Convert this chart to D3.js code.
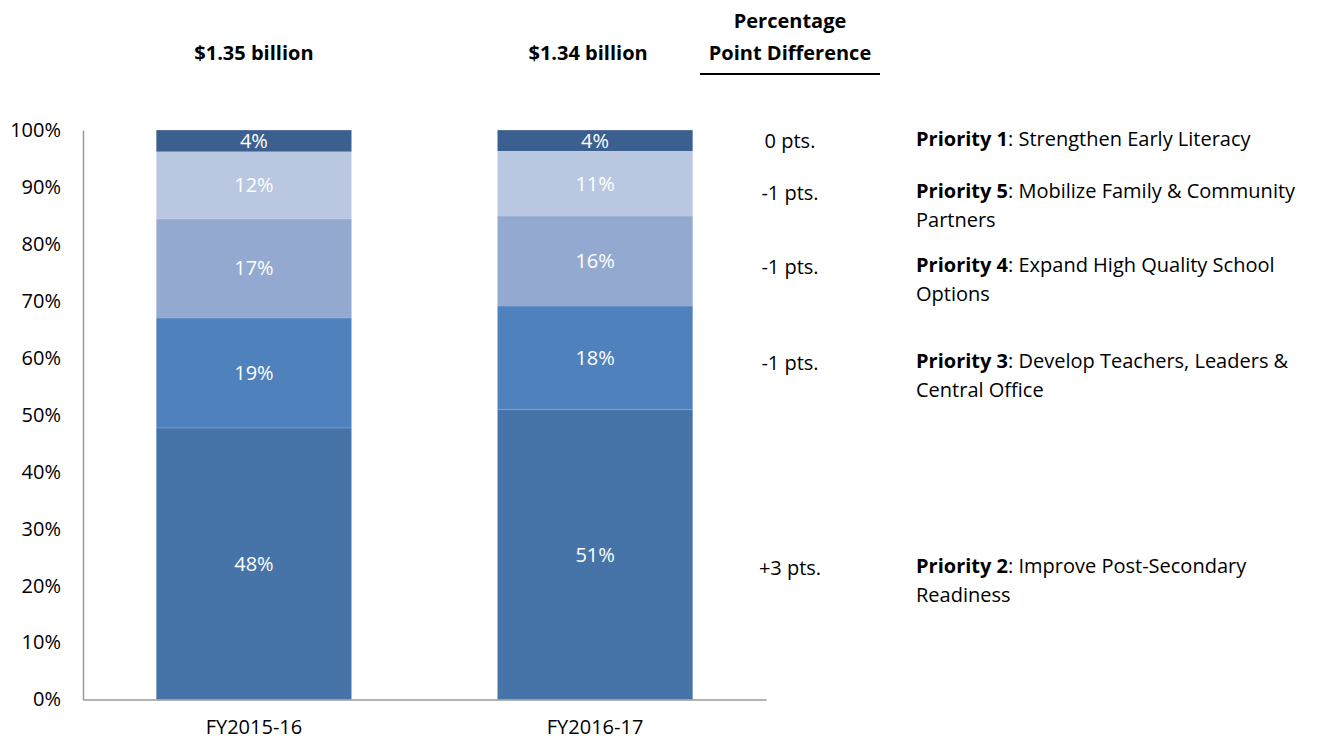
<!DOCTYPE html>
<html>
<head>
<meta charset="utf-8">
<script src="https://cdn.jsdelivr.net/npm/d3@7"></script>
<style>
  body { margin: 0; background: #fff; }
  text { font-family: "Open Sans", "Noto Sans", sans-serif; }
</style>
</head>
<body>
<div id="chart"></div>
<script>
// data
var years = ["FY2015-16", "FY2016-17"];
var totals = ["$1.35 billion", "$1.34 billion"];
// stacked bottom to top
var priorities = ["Priority 2", "Priority 3", "Priority 4", "Priority 5", "Priority 1"];
var fy1516 = [47.7, 19.3, 17.4, 11.8, 3.8];
var fy1617 = [50.9, 18.2, 15.8, 11.4, 3.7];
var ptsDiff = ["+3 pts.", "-1 pts.", "-1 pts.", "-1 pts.", "0 pts."];
var descriptions = [
  ["Improve Post-Secondary", "Readiness"],
  ["Develop Teachers, Leaders &", "Central Office"],
  ["Expand High Quality School", "Options"],
  ["Mobilize Family & Community", "Partners"],
  ["Strengthen Early Literacy"]
];
var colors = ["#4674a8", "#4f81bd", "#94a9cf", "#bac7e0", "#3b5f8e"];
var yTicks = [0, 10, 20, 30, 40, 50, 60, 70, 80, 90, 100];

var W = 1324, H = 742;
var fs = "20px";
var svg = d3.select("#chart").append("svg")
  .attr("width", W)
  .attr("height", H);

var x = d3.scaleBand()
  .domain(years)
  .range([83, 766])
  .paddingInner(0.428)
  .paddingOuter(0.215);

var y = d3.scaleLinear()
  .domain([0, 100])
  .range([699.5, 130]);

// stack the two series
var table = priorities.map(function(p, i) {
  return { key: p, values: [fy1516[i], fy1617[i]] };
});
var rows = years.map(function(yr, j) {
  var row = { year: yr };
  priorities.forEach(function(p, i) { row[p] = table[i].values[j]; });
  return row;
});
var series = d3.stack().keys(priorities)(rows);

var layer = svg.append("g").selectAll("g")
  .data(series)
  .join("g")
  .attr("fill", function(d, i) { return colors[i]; });

layer.selectAll("rect")
  .data(function(d) { return d; })
  .join("rect")
  .attr("x", function(d) { return x(d.data.year); })
  .attr("width", x.bandwidth())
  .attr("y", function(d) { return y(d[1]); })
  .attr("height", function(d) { return y(d[0]) - y(d[1]); });

// faint separators between segments
layer.selectAll("line")
  .data(function(d) { return d; })
  .join("line")
  .attr("x1", function(d) { return x(d.data.year); })
  .attr("x2", function(d) { return x(d.data.year) + x.bandwidth(); })
  .attr("y1", function(d) { return y(d[1]); })
  .attr("y2", function(d) { return y(d[1]); })
  .attr("stroke", "#ffffff")
  .attr("stroke-opacity", 0.25)
  .attr("stroke-width", 1);

// segment labels
layer.selectAll("text")
  .data(function(d) { return d; })
  .join("text")
  .attr("x", function(d) { return x(d.data.year) + x.bandwidth() / 2; })
  .attr("y", function(d) { return (y(d[0]) + y(d[1])) / 2; })
  .attr("dy", "0.35em")
  .attr("text-anchor", "middle")
  .attr("fill", "#ffffff")
  .style("font-size", fs)
  .text(function(d) { return Math.round(d[1] - d[0]) + "%"; });

// Y axis
var yAxis = svg.append("g")
  .attr("transform", "translate(83,0)")
  .call(d3.axisLeft(y).tickValues(yTicks).tickSize(0).tickPadding(22)
    .tickFormat(function(d) { return d + "%"; }));
yAxis.select(".domain").attr("stroke", "#999999").attr("stroke-width", 1.5);
yAxis.selectAll("text").style("font-size", fs).attr("fill", "#000");

// X axis
var xAxis = svg.append("g")
  .attr("transform", "translate(0,699.5)")
  .call(d3.axisBottom(x).tickSize(0).tickPadding(20));
xAxis.select(".domain").attr("stroke", "#999999").attr("stroke-width", 1.5);
xAxis.selectAll("text").style("font-size", fs).attr("fill", "#000");

// totals above bars
svg.append("g").selectAll("text")
  .data(years)
  .join("text")
  .attr("x", function(d, i) { return x(d) + x.bandwidth() / 2 - (i === 1 ? 7 : 0); })
  .attr("y", 60)
  .attr("text-anchor", "middle")
  .style("font-size", fs)
  .style("font-weight", "bold")
  .text(function(d, i) { return totals[i]; });

// difference header
var diffX = 790;
svg.append("text")
  .attr("x", diffX).attr("y", 28)
  .attr("text-anchor", "middle")
  .style("font-size", fs).style("font-weight", "bold")
  .text("Percentage");
svg.append("text")
  .attr("x", diffX).attr("y", 60)
  .attr("text-anchor", "middle")
  .style("font-size", fs).style("font-weight", "bold")
  .text("Point Difference");
svg.append("line")
  .attr("x1", 700).attr("x2", 880)
  .attr("y1", 74).attr("y2", 74)
  .attr("stroke", "#000").attr("stroke-width", 2);

// right-side annotations
var lineY = [568, 363, 267, 193, 141];

var ann = svg.append("g").selectAll("g")
  .data(priorities)
  .join("g");

ann.append("text")
  .attr("x", diffX)
  .attr("y", function(d, i) { return lineY[i]; })
  .attr("dy", "0.35em")
  .attr("text-anchor", "middle")
  .style("font-size", fs)
  .text(function(d, i) { return ptsDiff[i]; });

ann.each(function(d, i) {
  var g = d3.select(this);
  var lines = descriptions[i];
  var t = g.append("text")
    .attr("x", 916)
    .attr("y", lineY[i] - 2)
    .attr("dy", "0.35em")
    .style("font-size", fs);
  t.append("tspan").style("font-weight", "bold").text(d);
  t.append("tspan").text(": " + lines[0]);
  if (lines[1]) {
    g.append("text")
      .attr("x", 916)
      .attr("y", lineY[i] + 27)
      .attr("dy", "0.35em")
      .style("font-size", fs)
      .text(lines[1]);
  }
});
</script>
</body>
</html>
